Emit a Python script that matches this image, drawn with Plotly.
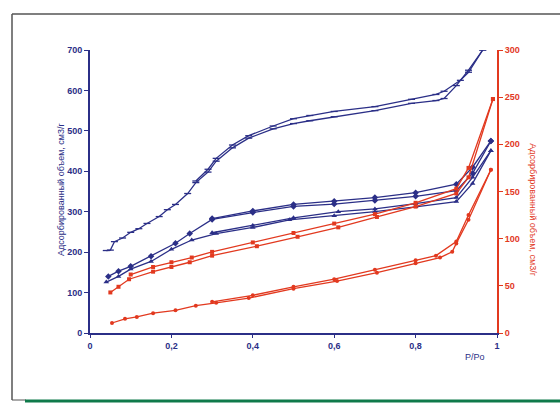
import plotly.graph_objects as go

NAVY = "#2b2f87"
RED = "#e2391f"

# x tick labels
x_tickvals = [0, 0.2, 0.4, 0.6, 0.8, 1]
x_ticktext = ["0", "0,2", "0,4", "0,6", "0,8", "1"]
y1_ticks = [0, 100, 200, 300, 400, 500, 600, 700]
y2_ticks = [0, 50, 100, 150, 200, 250, 300]

# Series A (blue, dash markers), left axis
xA_ads = [0.04, 0.05, 0.06, 0.08, 0.10, 0.12, 0.14, 0.17, 0.19, 0.21, 0.24, 0.26, 0.29, 0.31, 0.35, 0.39, 0.45, 0.50, 0.54, 0.60, 0.70, 0.79, 0.85, 0.87, 0.90, 0.93, 0.965]
yA_ads = [204, 205, 226, 235, 249, 258, 271, 288, 305, 318, 345, 372, 398, 425, 458, 482, 505, 518, 525, 535, 550, 568, 575, 580, 612, 650, 700]
xA_des = [0.965, 0.93, 0.91, 0.87, 0.85, 0.79, 0.70, 0.60, 0.54, 0.50, 0.45, 0.39, 0.35, 0.31, 0.29, 0.26]
yA_des = [700, 645, 625, 598, 590, 578, 560, 548, 538, 530, 512, 488, 465, 432, 405, 376]

# Series B (blue diamonds), left axis
xB_ads = [0.045, 0.07, 0.10, 0.15, 0.21, 0.245, 0.30, 0.40, 0.50, 0.60, 0.70, 0.80, 0.90, 0.94, 0.985]
yB_ads = [140, 153, 165, 190, 222, 246, 281, 298, 313, 319, 328, 338, 352, 395, 475]
xB_des = [0.985, 0.94, 0.90, 0.80, 0.70, 0.60, 0.50, 0.40, 0.30]
yB_des = [475, 410, 368, 347, 335, 326, 318, 302, 283]

# Series C (blue triangles), left axis
xC_ads = [0.04, 0.07, 0.10, 0.15, 0.20, 0.25, 0.31, 0.40, 0.49, 0.60, 0.70, 0.80, 0.90, 0.94, 0.985]
yC_ads = [126, 140, 158, 177, 207, 230, 246, 261, 280, 290, 300, 312, 325, 370, 451]
xC_des = [0.985, 0.94, 0.90, 0.80, 0.70, 0.61, 0.50, 0.40, 0.30]
yC_des = [451, 385, 335, 320, 307, 300, 285, 266, 248]

# Series D (red squares), right axis
xD_ads = [0.05, 0.07, 0.096, 0.155, 0.20, 0.245, 0.30, 0.41, 0.51, 0.61, 0.705, 0.80, 0.90, 0.93, 0.99]
yD_ads = [43, 49, 57, 65, 70, 75, 82, 92, 102, 112, 123, 134, 148, 165, 248]
xD_des = [0.99, 0.93, 0.90, 0.80, 0.70, 0.60, 0.50, 0.40, 0.30, 0.25, 0.20, 0.155, 0.10]
yD_des = [248, 175, 153, 138, 126, 116, 106, 96, 86, 80, 75, 70, 62]

# Series E (red circles), right axis
xE_ads = [0.054, 0.086, 0.115, 0.155, 0.21, 0.26, 0.31, 0.39, 0.50, 0.607, 0.705, 0.80, 0.86, 0.89, 0.90, 0.93, 0.985]
yE_ads = [10.6, 15, 17, 21, 24, 29, 32, 37, 47, 55, 64, 74, 80, 86, 95, 120, 173]
xE_des = [0.985, 0.93, 0.90, 0.85, 0.80, 0.70, 0.60, 0.50, 0.40, 0.30]
yE_des = [173, 125, 97, 82, 77, 67, 57, 49, 40, 33]

y_title = "Адсорбированный объем, см3/г"
x_title = "P/Po"

fig = go.Figure()

def add(x, y, color, symbol, size, yaxis):
    marker = dict(symbol=symbol, size=size, color=color)
    if symbol.startswith("line"):
        marker["line"] = dict(width=1.3, color=color)
    fig.add_trace(go.Scatter(x=x, y=y, mode="lines+markers", yaxis=yaxis,
                             line=dict(color=color, width=1.3),
                             marker=marker, showlegend=False))

add(xA_ads, yA_ads, NAVY, "line-ew", 5, "y")
add(xA_des, yA_des, NAVY, "line-ew", 5, "y")
add(xB_ads, yB_ads, NAVY, "diamond", 5, "y")
add(xB_des, yB_des, NAVY, "diamond", 5, "y")
add(xC_ads, yC_ads, NAVY, "triangle-up", 5, "y")
add(xC_des, yC_des, NAVY, "triangle-up", 5, "y")
add(xD_ads, yD_ads, RED, "square", 4, "y2")
add(xD_des, yD_des, RED, "square", 4, "y2")
add(xE_ads, yE_ads, RED, "circle", 4, "y2")
add(xE_des, yE_des, RED, "circle", 4, "y2")

tickfont_navy = dict(family="Liberation Sans", size=9, color=NAVY, weight="bold")
tickfont_red = dict(family="Liberation Sans", size=9, color=RED, weight="bold")

fig.update_layout(
    width=560, height=403,
    margin=dict(l=90, r=63, t=50, b=70),
    paper_bgcolor="white", plot_bgcolor="white",
    xaxis=dict(range=[0, 1], tickvals=x_tickvals, ticktext=x_ticktext,
               showgrid=False, zeroline=False, showline=True, linecolor=NAVY, linewidth=2,
               ticks="outside", ticklen=3, tickcolor=NAVY, tickfont=tickfont_navy),
    yaxis=dict(range=[0, 700], tickvals=y1_ticks, showgrid=False, zeroline=False,
               showline=True, linecolor=NAVY, linewidth=2, ticks="outside", ticklen=4,
               tickcolor=NAVY, tickfont=tickfont_navy),
    yaxis2=dict(range=[0, 300], tickvals=y2_ticks, overlaying="y", side="right",
                showgrid=False, zeroline=False, showline=True, linecolor=RED, linewidth=2,
                ticks="outside", ticklen=4, tickcolor=RED, tickfont=tickfont_red),
)

fig.add_annotation(text=y_title, xref="paper", yref="paper", x=-0.09, y=0.51,
                   textangle=-90, showarrow=False,
                   font=dict(family="Liberation Sans", size=9, color=NAVY))
fig.add_annotation(text=y_title, xref="paper", yref="paper", x=1.105, y=0.435,
                   textangle=90, showarrow=False,
                   font=dict(family="Liberation Sans", size=9, color=RED))
fig.add_annotation(text=x_title, xref="paper", yref="paper", x=0.946, y=-0.085,
                   xanchor="center", yanchor="middle", showarrow=False,
                   font=dict(family="Liberation Sans", size=9, color=NAVY))

# frame
def px(xp):
    return (xp - 90) / 407.0
def py(yp):
    return (333 - yp) / 283.0

fig.add_shape(type="line", xref="paper", yref="paper", x0=px(12), x1=px(562), y0=py(14), y1=py(14),
              line=dict(color="#555555", width=1.5))
fig.add_shape(type="line", xref="paper", yref="paper", x0=px(12), x1=px(12), y0=py(14), y1=py(400),
              line=dict(color="#555555", width=1.5))
fig.add_shape(type="line", xref="paper", yref="paper", x0=px(12), x1=px(26), y0=py(400), y1=py(400),
              line=dict(color="#555555", width=1))
fig.add_shape(type="line", xref="paper", yref="paper", x0=px(25), x1=px(562), y0=py(401), y1=py(401),
              line=dict(color="#0f7a4a", width=3))

fig.write_html("out.html")
